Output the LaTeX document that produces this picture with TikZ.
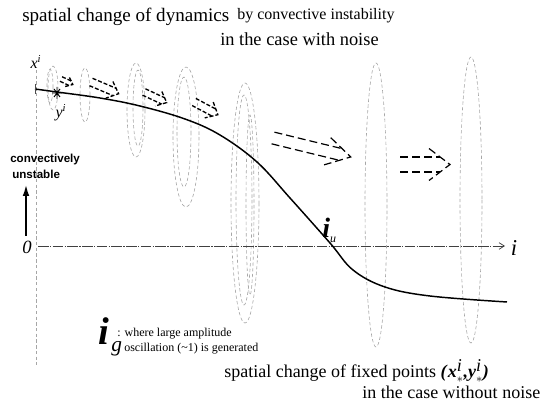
\documentclass[tikz,border=0pt]{standalone}
\usepackage{fontspec}
\setmainfont{Liberation Serif}
\newfontfamily\sansbold{Liberation Sans}
\usetikzlibrary{arrows.meta}
\begin{document}
\begin{tikzpicture}[x=0.75pt,y=-0.75pt,
  faint/.style={draw=black!35, line width=0.45pt, dash pattern=on 2.5pt off 1.8pt},
  bigarr/.style={draw=black, line width=0.9pt, dash pattern=on 6pt off 3pt},
  smallarr/.style={draw=black, line width=1pt, dash pattern=on 3pt off 1.5pt},
  curvestyle/.style={draw=black, line width=1.1pt},
  axisstyle/.style={draw=black!75, line width=0.55pt, dash pattern=on 8pt off 1pt on 1pt off 1pt, -{Straight Barb[length=4pt,width=5pt]}},
  lbl/.style={inner sep=0pt, anchor=base west},
  pics/dbl/.style n args={5}{code={
    \draw[#5] (0,-#2) -- ({#1-#3*#2/#4},-#2) (0,#2) -- ({#1-#3*#2/#4},#2);
    \draw[#5] ({#1-#3},-#4) -- (#1,0) -- ({#1-#3},#4);
  }}
]
\useasboundingbox (0,0) rectangle (544,403);

% titles
\node[lbl, font=\fontsize{14.3}{16}\selectfont] (t1) at (22,22) {spatial change of dynamics};
\node[lbl, font=\fontsize{12}{14}\selectfont] (t2) at (237,20) {by convective instability};
\node[lbl, font=\fontsize{13.8}{16}\selectfont] (t3) at (220,46) {in the case with noise};

% faint attractor ellipses
\draw[faint] (53,88) ellipse [x radius=5, y radius=22];
\draw[faint] (50,86) ellipse [x radius=3, y radius=17];
\draw[faint] (85,95) ellipse [x radius=5, y radius=27];
\draw[faint] (136,110) ellipse [x radius=9, y radius=47];
\draw[faint] (138,108) ellipse [x radius=5, y radius=38];
\draw[faint] (186,137) ellipse [x radius=13, y radius=70];
\draw[faint] (184,132) ellipse [x radius=7, y radius=55];
\draw[faint] (245,203) ellipse [x radius=14, y radius=120];
\draw[faint] (244,200) ellipse [x radius=8, y radius=105];
\draw[faint] (250,205) ellipse [x radius=4, y radius=90];
\draw[faint] (376,205) ellipse [x radius=11, y radius=142];
\draw[faint] (471,200) ellipse [x radius=11, y radius=143];

% axes
\coordinate (vtop) at (36,70);
\coordinate (vbot) at (36,365);
\draw[faint] (vtop) -- (vbot);
\coordinate (hstart) at (38,246);
\coordinate (hend) at (505,246);
\draw[axisstyle] (hstart) -- (hend);
\node[font=\itshape\fontsize{14}{16}\selectfont] (zero) at (27,247) {0};
\node[font=\itshape\fontsize{17}{18}\selectfont] (ilab) at (514,248) {i};
\node[font=\itshape\fontsize{12}{14}\selectfont] (xi) at (36,62) {x\textsuperscript{i}};
\node[font=\itshape\fontsize{12}{14}\selectfont] (yi) at (61,113) {y\textsuperscript{i}};

% fixed-point curve
\draw[curvestyle] plot[smooth, tension=0.6] coordinates {(35,89) (57,92) (100,98) (140,106) (185,119) (220,135) (257,162) (290,198) (330,243) (353,270) (385,287) (430,296) (507,302)};
\draw[black!70, line width=0.6pt] (35,84) -- (35,94);

% star
\coordinate (star) at (57,93);
\draw[line width=0.7pt] ([shift={(-5,0)}]star) -- ([shift={(5,0)}]star)
  ([shift={(-3,-4)}]star) -- ([shift={(3,4)}]star)
  ([shift={(-3,4)}]star) -- ([shift={(3,-4)}]star)
  ([shift={(0,-6)}]star) -- ([shift={(0,6)}]star);

% small dashed arrows
\pic[rotate=-25] at (61,79) {dbl={13}{2.5}{6}{5}{smallarr}};
\pic[rotate=-23] at (91,82) {dbl={30}{4}{10}{9}{smallarr}};
\pic[rotate=-25] at (144,92) {dbl={25}{3.5}{9}{8}{smallarr}};
\pic[rotate=-28] at (194,102) {dbl={27}{4}{10}{9}{smallarr}};

% large dashed arrows
\pic[rotate=-13.7] at (273,138) {dbl={80}{6}{24}{14}{bigarr}};
\pic at (400,164.5) {dbl={50}{7.5}{21}{16}{bigarr}};

% convectively unstable
\node[lbl, font=\sansbold\bfseries\fontsize{8.7}{10}\selectfont] (cu1) at (10,163) {convectively};
\node[lbl, font=\sansbold\bfseries\fontsize{8.7}{10}\selectfont] (cu2) at (12,179) {unstable};
\coordinate (abot) at (26,236);
\coordinate (atop) at (26,184);
\draw[line width=1.6pt, -{Latex[length=9pt,width=5pt]}] (abot) -- (atop);

% i_u
\node[lbl, font=\bfseries\itshape\fontsize{21}{22}\selectfont] (iu) at (322,238) {i\textsubscript{\normalfont\itshape\fontsize{9}{9}\selectfont u}};

% i_g
\node[lbl, font=\bfseries\itshape\fontsize{29}{30}\selectfont] (ig) at (98,345) {i};
\node[lbl, font=\itshape\fontsize{16}{17}\selectfont] (g) at (111,352) {g};
\node[lbl, font=\fontsize{9}{10}\selectfont] (ig1) at (117,337) {: where large amplitude};
\node[lbl, font=\fontsize{9}{10}\selectfont] (ig2) at (124,352) {oscillation (\textasciitilde1) is generated};

% bottom text
\node[lbl, font=\fontsize{13.5}{16}\selectfont] (b1) at (224,378) {spatial change of fixed points \textbf{\textit{(}}$\textbf{\textit{x}}^{\textit{i}}_{*}$\textbf{\textit{,}}$\textbf{\textit{y}}^{\textit{i}}_{*}$\textbf{\textit{)}}};
\node[lbl, font=\fontsize{13.5}{16}\selectfont] (b2) at (362,398) {in the case without noise};
\end{tikzpicture}
\end{document}
